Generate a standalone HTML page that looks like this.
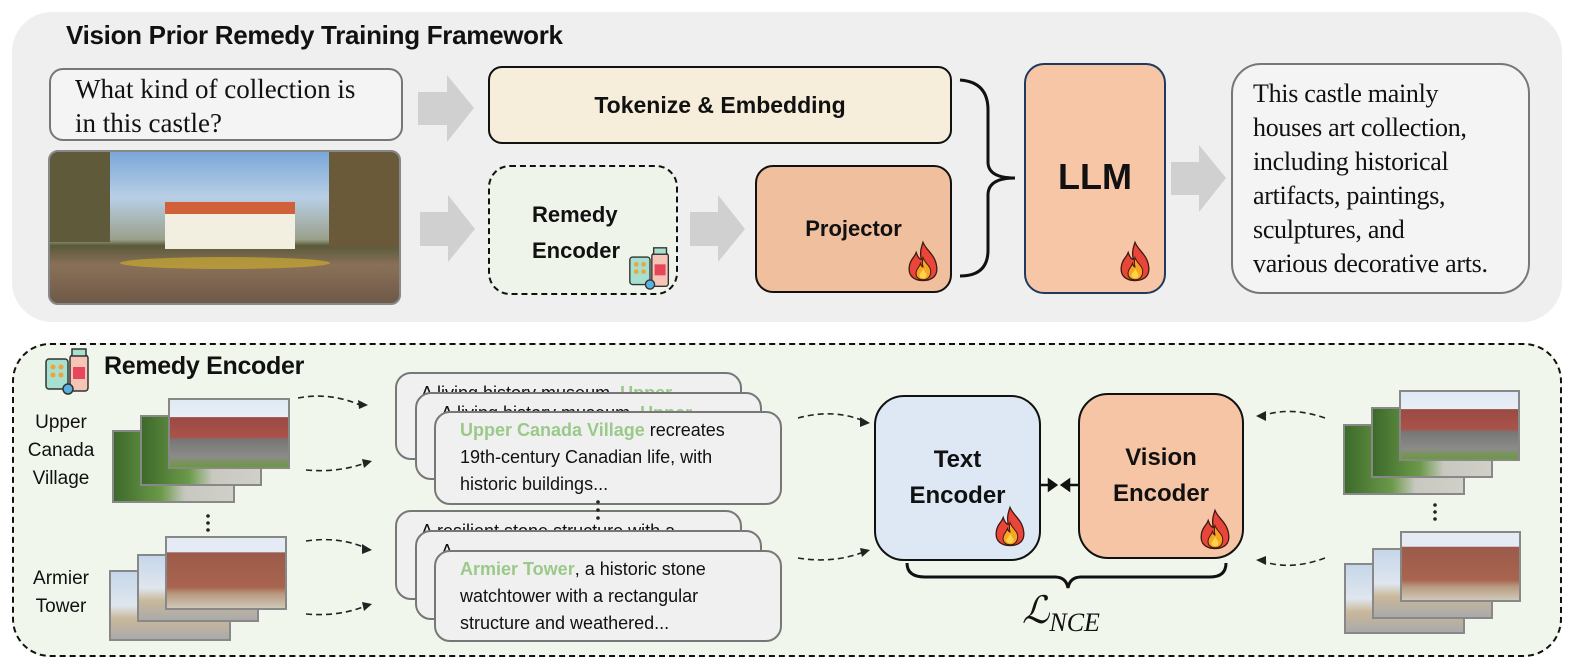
<!DOCTYPE html>
<html><head><meta charset="utf-8"><style>
*{margin:0;padding:0;box-sizing:border-box}
body{width:1579px;height:664px;background:#fff;position:relative;overflow:hidden;font-family:"Liberation Sans",sans-serif}
.a{position:absolute}
.b{font-weight:bold;color:#111}
.ser{font-family:"Liberation Serif",serif;color:#111}
.card{position:absolute;background:#f0f0f0;border:2px solid #777;border-radius:16px;overflow:hidden;font-size:18px;line-height:27px;color:#111;padding:6px 0 0 24px;white-space:nowrap}
.g{color:#9bc98a;font-weight:bold}
.img{position:absolute;border:2px solid #888}
.brick{background:linear-gradient(180deg,#dfe9f5 0%,#e8eef5 25%,#9b4a44 26%,#a9524a 55%,#777 60%,#8b8b88 85%,#6a9a3a 100%)}
.tower{background:linear-gradient(180deg,#e4ebf4 0%,#e4ebf4 20%,#9c5a4a 21%,#a8644f 70%,#b89a80 80%,#cfc8b8 100%)}
.grn{background:linear-gradient(90deg,#3c6a2a,#6c9a4a 40%,#c8c8c0 60%,#d0d0c8)}
.sky{background:linear-gradient(180deg,#c6d6ea,#dfe6ee 50%,#c9b89a 70%,#aaa 100%)}
</style></head><body>

<div class="a" style="left:12px;top:12px;width:1550px;height:310px;background:#efefef;border-radius:40px"></div>
<div class="a b" style="left:66px;top:20px;font-size:26px;letter-spacing:-0.3px">Vision Prior Remedy Training Framework</div>

<div class="a ser" style="left:49px;top:68px;width:354px;height:73px;border:2px solid #777;border-radius:14px;background:#f4f4f4;font-size:27px;line-height:34px;padding:2px 0 0 24px;white-space:nowrap">What kind of collection is<br>in this castle?</div>

<div class="a" style="left:48px;top:150px;width:353px;height:155px;border-radius:10px;overflow:hidden;border:2px solid #888;background:linear-gradient(180deg,#7aa7d8 0%,#b8cfe6 30%,#9aa08a 58%,#5a5a3a 62%,#8a7058 75%,#6e5a48 100%)">
 <div class="a" style="left:0;top:0;width:60px;height:90px;background:#5e5a3a"></div>
 <div class="a" style="right:0;top:0;width:70px;height:95px;background:#6a5a3a"></div>
 <div class="a" style="left:115px;top:55px;width:130px;height:42px;background:#f2eee0"></div>
 <div class="a" style="left:115px;top:50px;width:130px;height:12px;background:#d0603a"></div>
 <div class="a" style="left:70px;top:105px;width:210px;height:12px;background:#c8a830;border-radius:50%;opacity:.7"></div>
</div>

<svg class="a" style="left:0;top:0" width="1579" height="330">
 <g fill="#d0d0d0">
  <polygon points="418,92 447,92 447,75 474,108 447,142 447,125 418,125"/>
  <polygon points="420,212 448,212 448,195 475,229 448,262 448,246 420,246"/>
  <polygon points="690,212 718,212 718,195 745,229 718,262 718,246 690,246"/>
  <polygon points="1171,162 1199,162 1199,145 1226,178 1199,212 1199,195 1171,195"/>
 </g>
 <path d="M960,80 Q988,82 988,110 L988,162 Q988,178 1015,178 Q988,178 988,195 L988,250 Q988,276 960,276" fill="none" stroke="#111" stroke-width="3"/>
</svg>

<div class="a b" style="left:488px;top:66px;width:464px;height:78px;border:2px solid #111;border-radius:14px;background:#f6eedb;font-size:23px;display:flex;align-items:center;justify-content:center">Tokenize &amp; Embedding</div>

<div class="a b" style="left:488px;top:165px;width:190px;height:130px;border:2.5px dashed #111;border-radius:22px;background:#eef4ea;font-size:22px;line-height:36px;padding:30px 0 0 42px">Remedy<br>Encoder</div>

<div class="a b" style="left:755px;top:165px;width:197px;height:128px;border:2px solid #111;border-radius:18px;background:#efbf9e;font-size:22px;display:flex;align-items:center;justify-content:center">Projector</div>

<div class="a b" style="left:1024px;top:63px;width:142px;height:231px;border:2px solid #1f3a5f;border-radius:20px;background:#f7c6a6;font-size:36px;display:flex;align-items:center;justify-content:center;padding-bottom:3px">LLM</div>

<div class="a ser" style="left:1231px;top:63px;width:299px;height:231px;border:2px solid #777;border-radius:30px;background:#f4f4f4;font-size:26px;line-height:34px;padding:12px 0 0 20px;white-space:nowrap;letter-spacing:-0.3px">This castle mainly<br>houses art collection,<br>including historical<br>artifacts, paintings,<br>sculptures, and<br>various decorative arts.</div>

<svg width="0" height="0" style="position:absolute"><defs><symbol id="fire" viewBox="0 0 40 48"><path d="M20 2 C24 12 34 16 36 30 C38 42 30 47 20 47 C10 47 2 42 4 30 C5 22 10 20 12 14 C14 20 16 22 18 22 C16 14 18 8 20 2Z" fill="#e9453a" stroke="#3a1a10" stroke-width="1.5"/><path d="M20 20 C23 28 30 30 29 38 C28 44 24 46 20 46 C15 46 11 43 12 37 C13 32 16 31 17 27 C18 30 19 31 20 31 C19 27 19 24 20 20Z" fill="#f7a623" stroke="#3a1a10" stroke-width="1.2"/><path d="M20 33 C22 37 25 39 24 42 C23 45 17 45 16 42 C15 39 19 37 20 33Z" fill="#fcd34a"/></symbol>
<symbol id="med" viewBox="0 0 48 48"><rect x="2" y="12" width="22" height="30" rx="3" fill="#a8e0d0" stroke="#333" stroke-width="1.5"/><circle cx="9" cy="20" r="2.5" fill="#f2a23a"/><circle cx="17" cy="20" r="2.5" fill="#f2a23a"/><circle cx="9" cy="28" r="2.5" fill="#f2a23a"/><circle cx="17" cy="28" r="2.5" fill="#f2a23a"/><rect x="26" y="8" width="18" height="36" rx="3" fill="#f5c6b8" stroke="#333" stroke-width="1.5"/><rect x="28" y="2" width="14" height="7" fill="#a8e0d0" stroke="#333" stroke-width="1.5"/><rect x="29" y="20" width="12" height="12" fill="#e8465a"/><circle cx="24" cy="42" r="5" fill="#5ab0e0" stroke="#333" stroke-width="1.5"/></symbol></defs></svg>
<svg class="a" style="left:906px;top:240px" width="34" height="42"><use href="#fire"/></svg>
<svg class="a" style="left:1118px;top:240px" width="34" height="42"><use href="#fire"/></svg>
<svg class="a" style="left:628px;top:246px" width="44" height="44"><use href="#med"/></svg>

<div class="a" style="left:12px;top:343px;width:1550px;height:314px;border:2.5px dashed #111;border-radius:38px;background:#f1f6ec"></div>
<svg class="a" style="left:44px;top:347px" width="48" height="48"><use href="#med"/></svg>
<div class="a b" style="left:104px;top:352px;font-size:25px;letter-spacing:-0.3px">Remedy Encoder</div>

<div class="a" style="left:24px;top:409px;width:74px;text-align:center;font-size:19px;line-height:28px;color:#111">Upper<br>Canada<br>Village</div>
<div class="a" style="left:24px;top:565px;width:74px;text-align:center;font-size:19px;line-height:28px;color:#111">Armier<br>Tower</div>

<div class="img grn" style="left:112px;top:430px;width:123px;height:73px"></div>
<div class="img grn" style="left:140px;top:415px;width:122px;height:71px"></div>
<div class="img brick" style="left:168px;top:398px;width:122px;height:71px"></div>
<div class="img sky" style="left:109px;top:570px;width:122px;height:71px"></div>
<div class="img sky" style="left:137px;top:554px;width:122px;height:68px"></div>
<div class="img tower" style="left:165px;top:536px;width:122px;height:74px"></div>

<div class="img grn" style="left:1343px;top:424px;width:122px;height:71px"></div>
<div class="img grn" style="left:1371px;top:407px;width:122px;height:71px"></div>
<div class="img brick" style="left:1399px;top:390px;width:121px;height:71px"></div>
<div class="img sky" style="left:1344px;top:563px;width:121px;height:71px"></div>
<div class="img sky" style="left:1372px;top:548px;width:121px;height:71px"></div>
<div class="img tower" style="left:1400px;top:531px;width:121px;height:71px"></div>

<div class="card" style="left:395px;top:372px;width:347px;height:88px">A living history museum, <span class="g">Upper</span></div>
<div class="card" style="left:415px;top:392px;width:347px;height:88px">A living history museum, <span class="g">Upper</span></div>
<div class="card" style="left:434px;top:411px;width:348px;height:94px;padding-top:4px"><span class="g">Upper Canada Village</span> recreates<br>19th-century Canadian life, with<br>historic buildings...</div>
<div class="card" style="left:395px;top:510px;width:347px;height:90px">A resilient stone structure with a</div>
<div class="card" style="left:415px;top:530px;width:347px;height:90px">A<br>r</div>
<div class="card" style="left:434px;top:550px;width:348px;height:92px;padding-top:4px"><span class="g">Armier Tower</span>, a historic stone<br>watchtower with a rectangular<br>structure and weathered...</div>

<div class="a b" style="left:874px;top:395px;width:167px;height:166px;border:2.5px solid #111;border-radius:30px;background:#dde8f4;font-size:24px;line-height:36px;display:flex;align-items:center;justify-content:center;text-align:center">Text<br>Encoder</div>
<div class="a b" style="left:1078px;top:393px;width:166px;height:166px;border:2.5px solid #111;border-radius:30px;background:#f6c5a5;font-size:24px;line-height:36px;display:flex;align-items:center;justify-content:center;text-align:center">Vision<br>Encoder</div>
<svg class="a" style="left:993px;top:505px" width="34" height="42"><use href="#fire"/></svg>
<svg class="a" style="left:1198px;top:508px" width="34" height="42"><use href="#fire"/></svg>

<svg class="a" style="left:0;top:330px" width="1579" height="334">
 <g fill="none" stroke="#222" stroke-width="1.6" stroke-dasharray="6,4">
  <path d="M298,68 Q330,62 360,75"/><path d="M306,140 Q340,143 368,132"/>
  <path d="M306,211 Q340,206 368,219"/><path d="M306,284 Q340,287 368,275"/>
  <path d="M798,88 Q835,78 866,92"/><path d="M798,228 Q835,234 866,221"/>
  <path d="M1325,88 Q1290,76 1262,86"/><path d="M1325,228 Q1290,241 1262,231"/>
 </g>
 <g fill="#222">
  <polygon points="368,75 358,70 359,79"/><polygon points="372,131 362,129 364,138"/>
  <polygon points="372,220 362,214 362,224"/><polygon points="372,274 362,272 364,281"/>
  <polygon points="870,93 860,87 860,97"/><polygon points="870,220 860,218 862,227"/>
  <polygon points="1256,86 1266,81 1266,91"/><polygon points="1256,230 1266,226 1266,235"/>
 </g>
 <g fill="#222"><circle cx="208" cy="186" r="1.8"/><circle cx="208" cy="193" r="1.8"/><circle cx="208" cy="200" r="1.8"/>
  <circle cx="598" cy="172" r="1.8"/><circle cx="598" cy="180" r="1.8"/><circle cx="598" cy="188" r="1.8"/>
  <circle cx="1435" cy="175" r="1.8"/><circle cx="1435" cy="182" r="1.8"/><circle cx="1435" cy="189" r="1.8"/></g>
 <g stroke="#111" stroke-width="2.5" fill="#111">
  <line x1="1041" y1="155" x2="1052" y2="155"/><polygon points="1056,155 1049,150 1049,160"/>
  <line x1="1078" y1="155" x2="1066" y2="155"/><polygon points="1062,155 1069,150 1069,160"/>
 </g>
 <path d="M907,233 Q907,247 925,247 L1055,247 Q1066,247 1068,258 Q1070,247 1081,247 L1210,247 Q1226,247 1226,233" fill="none" stroke="#111" stroke-width="3"/>
</svg>
<div class="a ser" style="left:1022px;top:588px;font-size:38px;font-style:italic;white-space:nowrap">ℒ<span style="font-size:26px;position:relative;top:8px">NCE</span></div>

</body></html>
